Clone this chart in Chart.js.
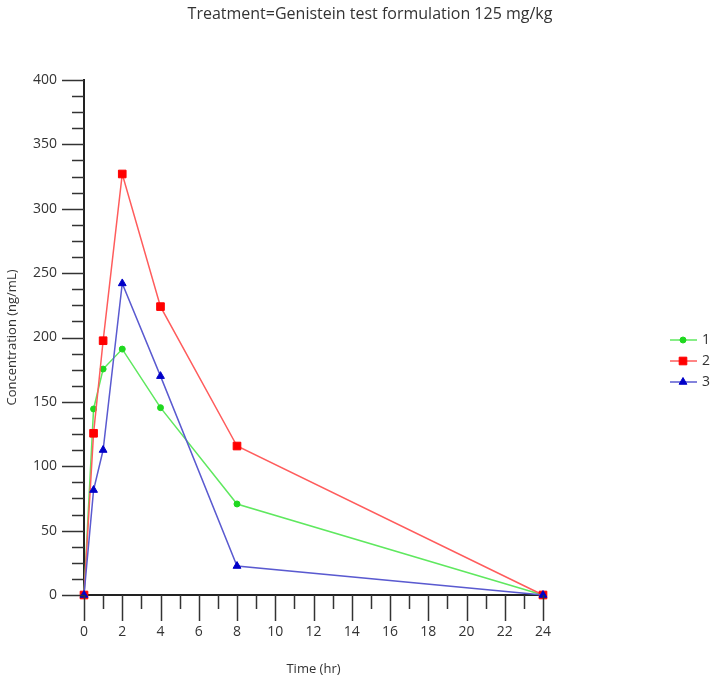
<!DOCTYPE html>
<html>
<head>
<meta charset="utf-8">
<script src="https://cdn.jsdelivr.net/npm/chart.js@4.4.1/dist/chart.umd.min.js"></script>
<style>
html, body { margin: 0; padding: 0; background: #fff; }
#wrap { width: 714px; height: 683px; }
</style>
</head>
<body>
<div id="wrap"><canvas id="pk"></canvas></div>
<script>
const times = [0, 0.5, 1, 2, 4, 8, 24];
const subject1 = [0, 144.5, 175.5, 191, 145.5, 70.7, 0];
const subject2 = [0, 125.6, 197.5, 327, 224, 115.7, 0];
const subject3 = [0, 81.5, 112.6, 242, 170, 22.5, 0];
const seriesNames = ['1', '2', '3'];
const titleText = 'Treatment=Genistein test formulation 125 mg/kg';

const FONT = '"Open Sans", "Noto Sans", sans-serif';

function pts(ys) {
    return times.map((t, i) => ({ x: t, y: ys[i] }));
}

function series(label, ys, line, mark, style, radius, order) {
    return {
        label: label,
        data: pts(ys),
        borderColor: line,
        borderWidth: 1.5,
        pointBackgroundColor: mark,
        pointBorderColor: mark,
        pointBorderWidth: 1,
        pointStyle: style,
        pointRadius: radius,
        pointHoverRadius: radius,
        tension: 0,
        clip: false,
        order: order
    };
}

// title + legend + tick marks drawn by hand
const extras = {
    id: 'extras',
    afterDraw(chart) {
        const ctx = chart.ctx;
        const xs = chart.scales.x, ys = chart.scales.y;
        ctx.save();

        ctx.strokeStyle = '#333';
        ctx.lineWidth = 1.5;
        for (let v = 0; v <= 400; v += 12.5) {
            const py = Math.round(ys.getPixelForValue(v)) + 0.5;
            const len = v % 50 === 0 ? 22 : 12;
            ctx.beginPath();
            ctx.moveTo(ys.right - len, py);
            ctx.lineTo(ys.right, py);
            ctx.stroke();
        }
        for (let h = 0; h <= 24; h++) {
            const px = Math.round(xs.getPixelForValue(h)) + 0.5;
            const len = h % 2 === 0 ? 26 : 14;
            ctx.beginPath();
            ctx.moveTo(px, xs.top);
            ctx.lineTo(px, xs.top + len);
            ctx.stroke();
        }

        ctx.fillStyle = '#333';
        ctx.font = '16px ' + FONT;
        ctx.textAlign = 'center';
        ctx.textBaseline = 'middle';
        ctx.fillText(titleText, 370, 14);

        ctx.font = '14px ' + FONT;
        ctx.textAlign = 'left';
        chart.data.datasets.forEach((ds, i) => {
            const y = 340 + i * 21;
            ctx.strokeStyle = ds.borderColor;
            ctx.lineWidth = 1.5;
            ctx.beginPath();
            ctx.moveTo(670, y);
            ctx.lineTo(697, y);
            ctx.stroke();
            ctx.fillStyle = ds.pointBackgroundColor;
            ctx.strokeStyle = ds.pointBorderColor;
            ctx.lineWidth = 1;
            Chart.helpers.drawPoint(ctx, { pointStyle: ds.pointStyle, radius: ds.pointRadius, rotation: 0, borderWidth: 1 }, 683, y);
            ctx.fillStyle = '#333';
            ctx.fillText(ds.label, 702, y);
        });
        ctx.restore();
    }
};

new Chart(document.getElementById('pk'), {
    type: 'line',
    data: {
        datasets: [
            series(seriesNames[0], subject1, '#5fe85f', '#1fd81f', 'circle', 3, 3),
            series(seriesNames[1], subject2, '#ff5c5c', '#ff0000', 'rect', 5.4, 2),
            series(seriesNames[2], subject3, '#5a5ad0', '#0000c8', 'triangle', 4.5, 1)
        ]
    },
    options: {
        responsive: true,
        maintainAspectRatio: false,
        animation: false,
        layout: { padding: { top: 80, right: 171, left: 0, bottom: 0 } },
        plugins: {
            legend: { display: false },
            title: { display: false },
            tooltip: { enabled: false }
        },
        scales: {
            x: {
                type: 'linear',
                min: 0,
                max: 24,
                afterFit: s => { s.height = 88; },
                grid: { display: false, drawTicks: false },
                border: { display: true, color: '#222', width: 2 },
                ticks: {
                    stepSize: 2,
                    padding: 29,
                    color: '#333',
                    font: { family: FONT, size: 14 }
                },
                title: {
                    display: true,
                    text: 'Time (hr)',
                    color: '#333',
                    font: { family: FONT, size: 13 },
                    padding: { top: 0, bottom: 6 }
                }
            },
            y: {
                min: 0,
                max: 400,
                afterFit: s => { s.width = 84; },
                grid: { display: false, drawTicks: false },
                border: { display: true, color: '#222', width: 2 },
                ticks: {
                    stepSize: 50,
                    padding: 27,
                    color: '#333',
                    font: { family: FONT, size: 14 }
                },
                title: {
                    display: true,
                    text: 'Concentration (ng/mL)',
                    color: '#333',
                    font: { family: FONT, size: 13 },
                    padding: { top: 4, bottom: 0 }
                }
            }
        }
    },
    plugins: [extras]
});
</script>
</body>
</html>
